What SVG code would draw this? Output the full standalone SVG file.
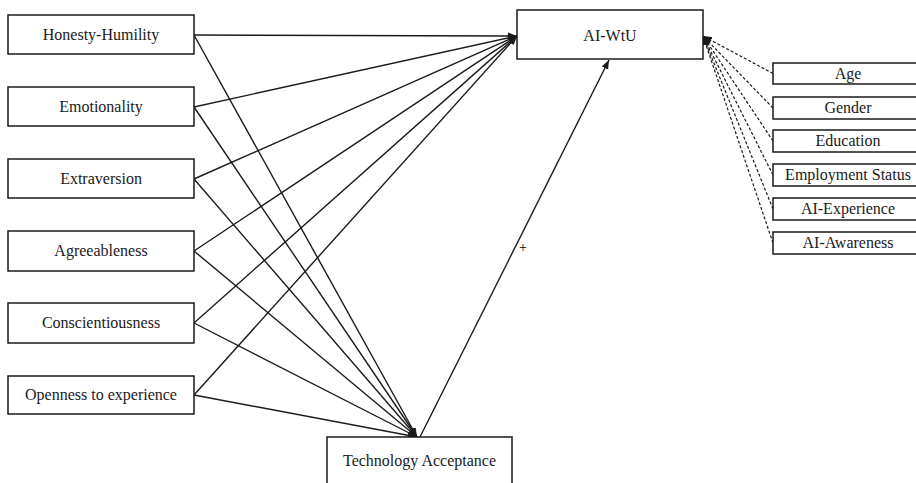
<svg xmlns="http://www.w3.org/2000/svg" width="916" height="483" viewBox="0 0 916 483">
<defs>
<marker id="ah" markerWidth="9" markerHeight="7" refX="9" refY="3.5" orient="auto" markerUnits="userSpaceOnUse">
<path d="M0,0 L9,3.5 L0,7 Z" fill="#1a1a1a"/>
</marker>
</defs>
<style>
.box{fill:#fff;stroke:#1a1a1a;stroke-width:1.5}
.t{font-family:"Liberation Serif","Times New Roman",serif;font-size:16px;fill:#1a1a1a;text-anchor:middle}
.c{fill:none;stroke:#1a1a1a;stroke-width:1.4;marker-end:url(#ah)}
.d{fill:none;stroke:#1a1a1a;stroke-width:1.2;stroke-dasharray:3,2;marker-end:url(#ah)}
.p{font-family:"Liberation Serif","Times New Roman",serif;font-size:14px;fill:#000;text-anchor:middle}
</style>
<rect width="916" height="483" fill="#fff"/>
<g id="connectors">
<line class="c" x1="194" y1="35" x2="517" y2="36"/>
<line class="c" x1="194" y1="107" x2="517" y2="36"/>
<line class="c" x1="194" y1="179" x2="517" y2="36"/>
<line class="c" x1="194" y1="251" x2="517" y2="36"/>
<line class="c" x1="194" y1="323" x2="517" y2="36"/>
<line class="c" x1="194" y1="395" x2="517" y2="36"/>
<line class="c" x1="194" y1="35" x2="417" y2="437"/>
<line class="c" x1="194" y1="107" x2="417" y2="437"/>
<line class="c" x1="194" y1="179" x2="417" y2="437"/>
<line class="c" x1="194" y1="251" x2="417" y2="437"/>
<line class="c" x1="194" y1="323" x2="417" y2="437"/>
<line class="c" x1="194" y1="395" x2="417" y2="437"/>
<line class="c" x1="420" y1="437" x2="609" y2="60"/>
<text class="p" x="523" y="252">+</text>
<line class="d" x1="773" y1="73.5" x2="703" y2="36"/>
<line class="d" x1="773" y1="108" x2="703" y2="36"/>
<line class="d" x1="773" y1="141" x2="703" y2="36"/>
<line class="d" x1="773" y1="175" x2="703" y2="36"/>
<line class="d" x1="773" y1="209" x2="703" y2="36"/>
<line class="d" x1="773" y1="243" x2="703" y2="36"/>
</g>
<g id="honesty"><rect class="box" x="8" y="15" width="186" height="39"/><text class="t" x="101" y="40">Honesty-Humility</text></g>
<g id="emotionality"><rect class="box" x="8" y="87" width="186" height="39"/><text class="t" x="101" y="112">Emotionality</text></g>
<g id="extraversion"><rect class="box" x="8" y="159" width="186" height="39"/><text class="t" x="101" y="184">Extraversion</text></g>
<g id="agreeableness"><rect class="box" x="8" y="231" width="186" height="40"/><text class="t" x="101" y="256">Agreeableness</text></g>
<g id="conscientiousness"><rect class="box" x="8" y="303" width="186" height="40"/><text class="t" x="101" y="328">Conscientiousness</text></g>
<g id="openness"><rect class="box" x="8" y="376" width="186" height="38"/><text class="t" x="101" y="400">Openness to experience</text></g>
<g id="aiwtu"><rect class="box" x="517" y="10" width="186" height="49"/><text class="t" x="610" y="41">AI-WtU</text></g>
<g id="techacc"><rect class="box" x="327" y="437" width="185" height="56"/><text class="t" x="419.5" y="466">Technology Acceptance</text></g>
<g id="age"><rect class="box" x="773" y="63" width="150" height="21"/><text class="t" x="848" y="79">Age</text></g>
<g id="gender"><rect class="box" x="773" y="97" width="150" height="22"/><text class="t" x="848" y="113">Gender</text></g>
<g id="education"><rect class="box" x="773" y="130" width="150" height="22"/><text class="t" x="848" y="146">Education</text></g>
<g id="employment"><rect class="box" x="773" y="164" width="150" height="22"/><text class="t" x="848" y="180">Employment Status</text></g>
<g id="aiexperience"><rect class="box" x="773" y="198" width="150" height="22"/><text class="t" x="848" y="214">AI-Experience</text></g>
<g id="aiawareness"><rect class="box" x="773" y="232" width="150" height="22"/><text class="t" x="848" y="248">AI-Awareness</text></g>
</svg>
